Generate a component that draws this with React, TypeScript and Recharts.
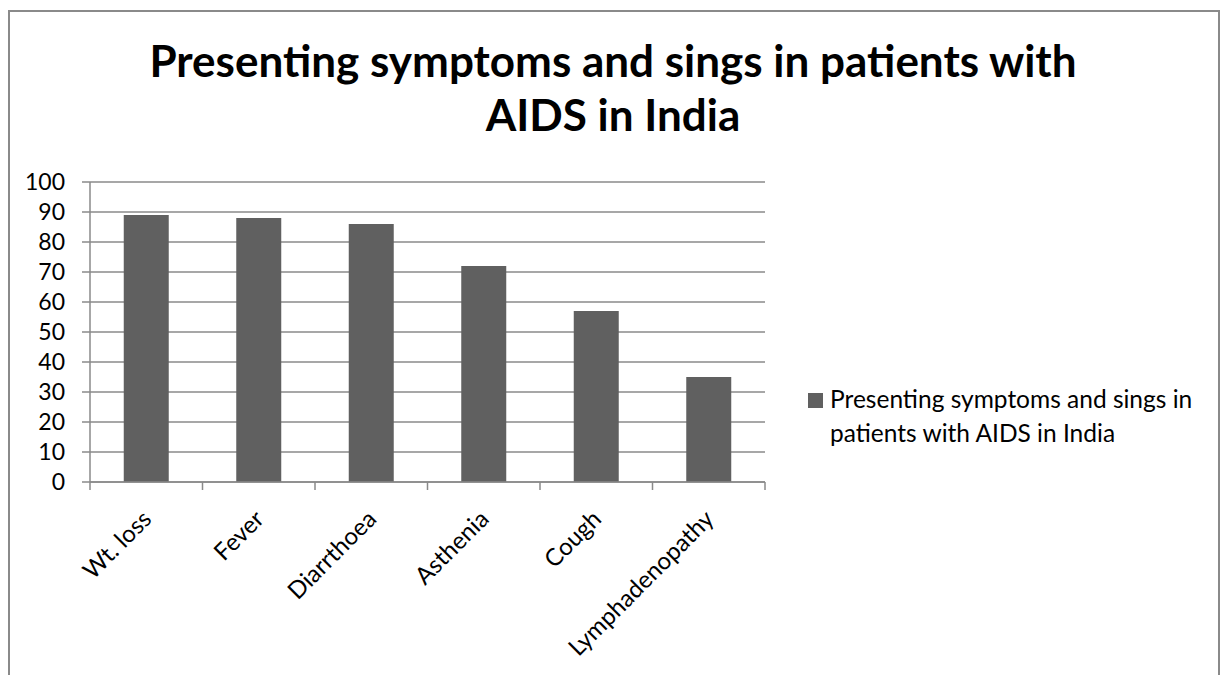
import { BarChart, Bar, XAxis, YAxis, CartesianGrid } from "recharts";

const titleLines = ["Presenting symptoms and sings in patients with", "AIDS in India"];
const categories = ["Wt. loss", "Fever", "Diarrthoea", "Asthenia", "Cough", "Lymphadenopathy"];
const values = [89, 88, 86, 72, 57, 35];
const yTicks = [0, 10, 20, 30, 40, 50, 60, 70, 80, 90, 100];
const seriesName = "Presenting symptoms and sings in patients with AIDS in India";

const data = categories.map((name, i) => ({ name, value: values[i] }));

const W = 1226;
const H = 675;
const PLOT = { left: 90, top: 182, right: 765, bottom: 482 };
const band = (PLOT.right - PLOT.left) / categories.length;
const GRID = "#8a8a8a";
const BAR = "#606060";
const FONT = "Lato, 'Open Sans', sans-serif";

function XTick(props: any) {
  const { x, y, payload, index } = props;
  const axisY = PLOT.bottom;
  const lx = x - 7;
  const ly = y + 17;
  return (
    <g>
      <line x1={x - band / 2} x2={x - band / 2} y1={axisY} y2={axisY + 8} stroke={GRID} strokeWidth={1.5} />
      {index === categories.length - 1 && (
        <line x1={x + band / 2} x2={x + band / 2} y1={axisY} y2={axisY + 8} stroke={GRID} strokeWidth={1.5} />
      )}
      <text
        x={lx}
        y={ly}
        transform={`rotate(-45, ${lx}, ${ly})`}
        textAnchor="end"
        dominantBaseline="hanging"
        fontSize={24}
        fontFamily={FONT}
        fill="#000"
      >
        {payload.value}
      </text>
    </g>
  );
}

export default function App() {
  const yAxisWidth = 70;
  const xAxisHeight = 150;
  return (
    <div style={{ position: "fixed", left: 0, top: 0, width: W, height: H, overflow: "hidden", background: "#fff" }}>
      <div
        style={{
          position: "absolute",
          left: 8,
          top: 10,
          width: 1212,
          height: 720,
          border: "2px solid #8a8a8a",
          boxSizing: "border-box",
        }}
      />
      <div
        style={{
          position: "absolute",
          left: 0,
          top: 33,
          width: W,
          textAlign: "center",
          fontFamily: FONT,
          fontWeight: 700,
          fontSize: 44,
          lineHeight: "54px",
          color: "#000",
        }}
      >
        {titleLines.map((t) => (
          <div key={t}>{t}</div>
        ))}
      </div>
      <div style={{ position: "absolute", left: 0, top: 0 }}>
        <BarChart
          width={W}
          height={H}
          data={data}
          barCategoryGap="30%"
          margin={{
            top: PLOT.top,
            left: PLOT.left - yAxisWidth,
            right: W - PLOT.right,
            bottom: H - PLOT.bottom - xAxisHeight,
          }}
        >
          <CartesianGrid vertical={false} stroke={GRID} strokeWidth={1.5} />
          <XAxis
            dataKey="name"
            height={xAxisHeight}
            axisLine={{ stroke: GRID, strokeWidth: 1.5 }}
            tickLine={false}
            interval={0}
            tick={<XTick />}
          />
          <YAxis
            width={yAxisWidth}
            domain={[0, 100]}
            ticks={yTicks}
            interval={0}
            tickSize={8}
            tickMargin={17}
            axisLine={{ stroke: GRID, strokeWidth: 1.5 }}
            tickLine={{ stroke: GRID, strokeWidth: 1.5 }}
            tick={{ fontSize: 23, fontFamily: FONT, fill: "#000" }}
          />
          <Bar dataKey="value" name={seriesName} fill={BAR} isAnimationActive={false} />
        </BarChart>
      </div>
      <div style={{ position: "absolute", left: 808, top: 382, width: 410, fontFamily: FONT, fontSize: 24.5, lineHeight: "34px", color: "#000" }}>
        <span
          style={{ position: "absolute", left: 0, top: 11, width: 15, height: 15, background: BAR }}
        />
        <div style={{ marginLeft: 22, width: 380 }}>{seriesName}</div>
      </div>
    </div>
  );
}
